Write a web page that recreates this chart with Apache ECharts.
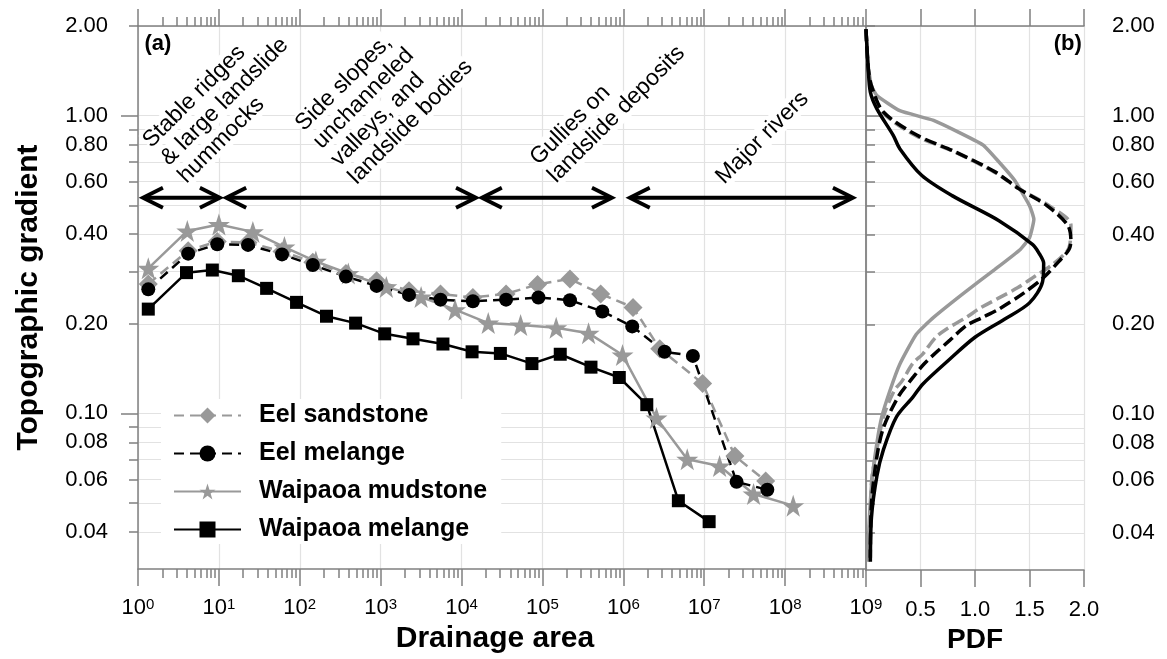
<!DOCTYPE html>
<html>
<head>
<meta charset="utf-8">
<script src="https://cdn.jsdelivr.net/npm/echarts@6/dist/echarts.min.js"></script>
<style>
  html, body { margin: 0; padding: 0; background: #fff; }
  #chart { width: 1167px; height: 659px; }
</style>
</head>
<body>
<div id="chart"></div>
<script>
// ---- Panel (a): slope-area data, drainage area (m^2) vs topographic gradient ----
const eelSandstoneArea = [1.34, 4.17, 9.55, 22.9, 60.3, 145, 372, 891, 2239, 5495, 13800, 35480, 87100, 218800, 524800, 1318000, 2818000, 9550000, 23990000, 57540000];
const eelSandstoneGrad = [0.272, 0.352, 0.378, 0.375, 0.350, 0.322, 0.295, 0.279, 0.258, 0.252, 0.245, 0.252, 0.271, 0.283, 0.252, 0.227, 0.165, 0.126, 0.0719, 0.0593];

const eelMelangeArea = [1.34, 4.17, 9.55, 22.9, 60.3, 145, 372, 891, 2239, 5495, 13800, 35480, 89130, 218800, 549500, 1288000, 3236000, 7244000, 25120000, 60260000];
const eelMelangeGrad = [0.261, 0.344, 0.370, 0.368, 0.342, 0.315, 0.288, 0.268, 0.250, 0.241, 0.238, 0.241, 0.245, 0.240, 0.220, 0.196, 0.161, 0.156, 0.0589, 0.0554];

const waipaoaMudstoneArea = [1.34, 4.07, 10, 26.3, 64.6, 158, 398, 1175, 3162, 8318, 21380, 53700, 147900, 371500, 977200, 2570000, 6166000, 15490000, 40740000, 125900000];
const waipaoaMudstoneGrad = [0.307, 0.410, 0.431, 0.407, 0.362, 0.324, 0.295, 0.266, 0.246, 0.223, 0.201, 0.198, 0.194, 0.186, 0.157, 0.0965, 0.0701, 0.0666, 0.0536, 0.0490];

const waipaoaMelangeArea = [1.34, 3.98, 8.3, 17.4, 38.9, 91.2, 214, 490, 1122, 2512, 5888, 13490, 30200, 74130, 166000, 398100, 891300, 1950000, 4790000, 11500000];
const waipaoaMelangeGrad = [0.224, 0.297, 0.303, 0.290, 0.263, 0.236, 0.212, 0.201, 0.185, 0.178, 0.171, 0.161, 0.159, 0.147, 0.158, 0.143, 0.132, 0.107, 0.0509, 0.0433];

// ---- Panel (b): probability density of gradient, [pdf, gradient] ----
const pdfEelSandstone = [[0.00, 1.95], [0.02, 1.45], [0.05, 1.26], [0.15, 1.03], [0.45, 0.86], [0.80, 0.76], [1.17, 0.65], [1.44, 0.56], [1.68, 0.50], [1.88, 0.43], [1.87, 0.37], [1.84, 0.35], [1.70, 0.315], [1.55, 0.29], [1.39, 0.265], [1.05, 0.227], [0.92, 0.211], [0.74, 0.193], [0.64, 0.181], [0.52, 0.159], [0.43, 0.148], [0.33, 0.129], [0.26, 0.12], [0.16, 0.098], [0.10, 0.076], [0.05, 0.059], [0.04, 0.035]];
const pdfEelMelange = [[0.00, 1.95], [0.02, 1.45], [0.05, 1.26], [0.16, 1.03], [0.47, 0.86], [0.81, 0.76], [1.18, 0.65], [1.40, 0.57], [1.66, 0.50], [1.85, 0.43], [1.88, 0.38], [1.86, 0.355], [1.77, 0.325], [1.62, 0.285], [1.45, 0.255], [1.22, 0.225], [1.07, 0.211], [0.92, 0.198], [0.77, 0.177], [0.66, 0.163], [0.53, 0.147], [0.44, 0.134], [0.30, 0.115], [0.16, 0.090], [0.10, 0.072], [0.05, 0.050], [0.04, 0.033]];
const pdfWaipaoaMudstone = [[0.00, 1.95], [0.02, 1.47], [0.05, 1.26], [0.10, 1.17], [0.31, 1.04], [0.62, 0.965], [1.07, 0.80], [1.22, 0.70], [1.36, 0.61], [1.50, 0.50], [1.54, 0.45], [1.50, 0.39], [1.41, 0.355], [1.18, 0.305], [0.90, 0.255], [0.62, 0.211], [0.46, 0.185], [0.31, 0.147], [0.22, 0.12], [0.145, 0.098], [0.10, 0.080], [0.053, 0.059], [0.025, 0.040], [0.02, 0.032]];
const pdfWaipaoaMelange = [[0.00, 1.95], [0.02, 1.45], [0.04, 1.20], [0.10, 1.055], [0.25, 0.86], [0.31, 0.776], [0.51, 0.632], [0.79, 0.54], [1.22, 0.445], [1.53, 0.37], [1.59, 0.345], [1.63, 0.32], [1.62, 0.278], [1.50, 0.236], [1.27, 0.208], [1.00, 0.181], [0.77, 0.153], [0.52, 0.126], [0.43, 0.114], [0.28, 0.098], [0.16, 0.076], [0.10, 0.062], [0.05, 0.045], [0.04, 0.032]];

// ---- Landform zones: double-headed arrows along drainage area ----
const zoneArrowLevel = 0.53;
const zoneArrows = [[1.15, 10.3], [12.3, 15100], [17800, 724000], [1.2e6, 6.9e8]];
const zoneTexts = [
  ['Stable ridges', '& large landslide', 'hummocks'],
  ['Side slopes,', 'unchanneled', 'valleys, and', 'landslide bodies'],
  ['Gullies on', 'landslide deposits'],
  ['Major rivers']
];
// left-middle point of each caption block, in (area, gradient)
const zoneTextAnchors = [[2.12, 0.700], [210, 0.744], [101500, 0.656], [15600000, 0.607]];

// ---- Axis ticks and labels ----
const areaDecades = [1, 1e1, 1e2, 1e3, 1e4, 1e5, 1e6, 1e7, 1e8, 1e9];
const areaMinorTicks = [];
for (let n = 0; n < 9; n++) for (let k = 2; k <= 9; k++) areaMinorTicks.push(k * Math.pow(10, n));
const gradTicks = [0.04, 0.05, 0.06, 0.07, 0.08, 0.09, 0.1, 0.2, 0.3, 0.4, 0.5, 0.6, 0.7, 0.8, 0.9, 1, 2];
const gradDecadeTicks = [0.1, 1];
const gradLabels = [0.04, 0.06, 0.08, 0.1, 0.2, 0.4, 0.6, 0.8, 1, 2];

const GREY = '#999999';
const AXIS = '#808080';
const GRID = '#e2e2e2';
const FONT = '"Liberation Sans", Arial, sans-serif';
const STAR = 'path://M50,0 L61.8,35.1 L98.1,35.1 L68.8,56.8 L79.4,91 L50,70 L20.6,91 L31.2,56.8 L1.9,35.1 L38.2,35.1 Z';

const GRAD_MIN = 0.03, GRAD_MAX = 2;

const zip = (xs, ys) => xs.map((x, i) => [x, ys[i]]);

const axisLine = { show: true, lineStyle: { color: AXIS, width: 1.5 } };
const noLine = { show: false };

function areaAxis(position, ticks, len, extra) {
  return Object.assign({
    type: 'log', logBase: 10, gridIndex: 0, position: position,
    min: 1, max: 1e9,
    axisLine: axisLine,
    axisTick: { show: true, inside: false, length: len, customValues: ticks, lineStyle: { color: AXIS, width: 1.5 } },
    axisLabel: { show: false },
    splitLine: { show: false }
  }, extra || {});
}

function gradAxis(grid, position, ticks, len, extra) {
  return Object.assign({
    type: 'log', logBase: 10, gridIndex: grid, position: position,
    min: GRAD_MIN, max: GRAD_MAX,
    axisLine: axisLine,
    axisTick: { show: true, inside: false, length: len, customValues: ticks, lineStyle: { color: AXIS, width: 1.5 } },
    axisLabel: { show: false },
    splitLine: { show: false }
  }, extra || {});
}

const gradLabelStyle = {
  show: true, customValues: gradLabels, fontSize: 22, color: '#000', fontFamily: FONT,
  formatter: v => Number(v).toFixed(2)
};

const titleStyle = { fontSize: 30, fontWeight: 'bold', color: '#000', fontFamily: FONT };

const option = {
  animation: false,
  backgroundColor: '#fff',
  textStyle: { fontFamily: FONT },
  grid: [
    { left: 138, top: 26, width: 728, height: 547 },
    { left: 866, top: 26, width: 218, height: 547 }
  ],
  xAxis: [
    areaAxis('bottom', areaDecades, 17, {
      name: 'Drainage area', nameLocation: 'middle', nameGap: 48,
      nameTextStyle: Object.assign({ padding: [0, 14, 0, 0] }, titleStyle),
      axisLabel: {
        show: true, customValues: areaDecades, margin: 28, color: '#000', fontSize: 22, fontFamily: FONT,
        formatter: v => '10{s|' + Math.round(Math.log10(v)) + '}',
        rich: { s: { fontSize: 15, verticalAlign: 'top', fontFamily: FONT, color: '#000' } }
      },
      splitLine: { show: true, lineStyle: { color: GRID, width: 1.2 } }
    }),
    areaAxis('bottom', areaMinorTicks, 9, { axisLine: noLine }),
    areaAxis('top', areaDecades, 17),
    areaAxis('top', areaMinorTicks, 9, { axisLine: noLine }),
    {
      type: 'value', gridIndex: 1, position: 'bottom', min: 0, max: 2, interval: 0.5,
      name: 'PDF', nameLocation: 'middle', nameGap: 48,
      nameTextStyle: Object.assign({}, titleStyle, { fontSize: 28 }),
      axisLine: axisLine,
      axisTick: { show: true, inside: false, length: 17, lineStyle: { color: AXIS, width: 1.5 } },
      axisLabel: {
        show: true, margin: 29, fontSize: 22, color: '#000', fontFamily: FONT,
        formatter: v => (v === 0 ? '' : Number(v).toFixed(1))
      },
      splitLine: { show: true, lineStyle: { color: GRID, width: 1.2 } }
    },
    {
      type: 'value', gridIndex: 1, position: 'top', min: 0, max: 2, interval: 0.5,
      axisLine: axisLine,
      axisTick: { show: true, inside: false, length: 17, lineStyle: { color: AXIS, width: 1.5 } },
      axisLabel: { show: false },
      splitLine: { show: false }
    }
  ],
  yAxis: [
    gradAxis(0, 'left', gradTicks, 9, {
      name: 'Topographic gradient', nameLocation: 'middle', nameGap: 94, nameRotate: 90,
      nameTextStyle: titleStyle,
      axisLabel: Object.assign({ margin: 30 }, gradLabelStyle),
      splitLine: { show: true, lineStyle: { color: GRID, width: 1.2 } }
    }),
    gradAxis(0, 'left', gradDecadeTicks, 17, { axisLine: noLine }),
    gradAxis(1, 'right', gradTicks, 9, {
      axisLabel: Object.assign({ margin: 28 }, gradLabelStyle),
      splitLine: { show: true, lineStyle: { color: GRID, width: 1.2 } }
    }),
    gradAxis(1, 'right', gradDecadeTicks, 17, { axisLine: noLine }),
    gradAxis(1, 'left', [], 0, {
      axisLine: { show: true, lineStyle: { color: '#8c8c8c', width: 2 } },
      axisTick: { show: false }
    })
  ],
  legend: {
    data: ['Eel sandstone', 'Eel melange', 'Waipaoa mudstone', 'Waipaoa melange'],
    orient: 'vertical', left: 161, top: 399,
    itemWidth: 67, itemHeight: 20, itemGap: 13,
    backgroundColor: '#fff', padding: [4, 14, 2, 12],
    selectedMode: false,
    textStyle: { fontSize: 25, fontWeight: 'bold', color: '#000', fontFamily: FONT, padding: [0, 0, 0, 13], lineHeight: 24 }
  },
  series: [
    {
      name: 'Eel sandstone', type: 'line', xAxisIndex: 0, yAxisIndex: 0,
      data: zip(eelSandstoneArea, eelSandstoneGrad),
      symbol: 'diamond', symbolSize: 19,
      itemStyle: { color: GREY },
      lineStyle: { color: GREY, width: 2.5, type: [10, 6] }
    },
    {
      name: 'Waipaoa mudstone', type: 'line', xAxisIndex: 0, yAxisIndex: 0,
      data: zip(waipaoaMudstoneArea, waipaoaMudstoneGrad),
      symbol: STAR, symbolSize: 22,
      itemStyle: { color: GREY },
      lineStyle: { color: GREY, width: 2.5 }
    },
    {
      name: 'Eel melange', type: 'line', xAxisIndex: 0, yAxisIndex: 0,
      data: zip(eelMelangeArea, eelMelangeGrad),
      symbol: 'circle', symbolSize: 14,
      itemStyle: { color: '#000' },
      lineStyle: { color: '#000', width: 2.5, type: [10, 6] }
    },
    {
      name: 'Waipaoa melange', type: 'line', xAxisIndex: 0, yAxisIndex: 0,
      data: zip(waipaoaMelangeArea, waipaoaMelangeGrad),
      symbol: 'rect', symbolSize: 13,
      itemStyle: { color: '#000' },
      lineStyle: { color: '#000', width: 2.5 }
    },
    {
      // double-headed arrows marking landform zones
      name: 'zones', type: 'custom', xAxisIndex: 0, yAxisIndex: 0,
      data: zoneArrows.map(a => [a[0], a[1], zoneArrowLevel]),
      encode: { x: [0, 1], y: 2 },
      silent: true, z: 5,
      renderItem: function (params, api) {
        const p1 = api.coord([api.value(0), api.value(2)]);
        const p2 = api.coord([api.value(1), api.value(2)]);
        const L = 20, W = 10;
        const st = { stroke: '#000', fill: null, lineWidth: 3.8, lineJoin: 'miter', lineCap: 'butt' };
        return {
          type: 'group',
          children: [
            { type: 'line', shape: { x1: p1[0] + 1, y1: p1[1], x2: p2[0] - 1, y2: p2[1] }, style: st },
            { type: 'polyline', shape: { points: [[p1[0] + L, p1[1] - W], [p1[0], p1[1]], [p1[0] + L, p1[1] + W]] }, style: st },
            { type: 'polyline', shape: { points: [[p2[0] - L, p2[1] - W], [p2[0], p2[1]], [p2[0] - L, p2[1] + W]] }, style: st }
          ]
        };
      }
    },
    {
      name: 'Waipaoa mudstone PDF', type: 'line', xAxisIndex: 4, yAxisIndex: 2,
      data: pdfWaipaoaMudstone, symbol: 'none', smooth: 0.15,
      lineStyle: { color: GREY, width: 3.5 }
    },
    {
      name: 'Eel sandstone PDF', type: 'line', xAxisIndex: 4, yAxisIndex: 2,
      data: pdfEelSandstone, symbol: 'none', smooth: 0.3,
      lineStyle: { color: GREY, width: 3.5, type: [12, 5] }
    },
    {
      name: 'Eel melange PDF', type: 'line', xAxisIndex: 4, yAxisIndex: 2,
      data: pdfEelMelange, symbol: 'none', smooth: 0.3,
      lineStyle: { color: '#000', width: 3.5, type: [12, 5] }
    },
    {
      name: 'Waipaoa melange PDF', type: 'line', xAxisIndex: 4, yAxisIndex: 2,
      data: pdfWaipaoaMelange, symbol: 'none', smooth: 0.3,
      lineStyle: { color: '#000', width: 3.5 }
    }
  ]
};

const chart = echarts.init(document.getElementById('chart'), null, { renderer: 'canvas' });
chart.setOption(option);

// Zone captions (one rotated line each, stacked along the text normal) and panel tags
const finderA = { xAxisIndex: 0, yAxisIndex: 0 };
const finderB = { xAxisIndex: 4, yAxisIndex: 2 };
const CAPTION_LH = 25;
const normal = [Math.SQRT1_2, Math.SQRT1_2];
const graphics = [];
zoneTexts.forEach((lines, i) => {
  const p = chart.convertToPixel(finderA, zoneTextAnchors[i]);
  lines.forEach((t, k) => {
    const off = (k - (lines.length - 1) / 2) * CAPTION_LH;
    graphics.push({
      type: 'text', x: p[0] + off * normal[0], y: p[1] + off * normal[1],
      rotation: Math.PI / 4, z: 1,
      style: {
        text: t, fontSize: 23, fontFamily: FONT, fill: '#000',
        align: 'left', verticalAlign: 'middle', backgroundColor: '#fff'
      }
    });
  });
});
const tagA = chart.convertToPixel(finderA, [1.2, 1.74]);
const tagB = chart.convertToPixel(finderB, [1.98, 1.74]);
graphics.push({
  type: 'text', x: tagA[0], y: tagA[1], z: 10,
  style: { text: '(a)', fontSize: 22, fontWeight: 'bold', fontFamily: FONT, fill: '#000', align: 'left', verticalAlign: 'middle' }
});
graphics.push({
  type: 'text', x: tagB[0], y: tagB[1], z: 10,
  style: { text: '(b)', fontSize: 22, fontWeight: 'bold', fontFamily: FONT, fill: '#000', align: 'right', verticalAlign: 'middle' }
});
chart.setOption({ graphic: graphics });
</script>
</body>
</html>
